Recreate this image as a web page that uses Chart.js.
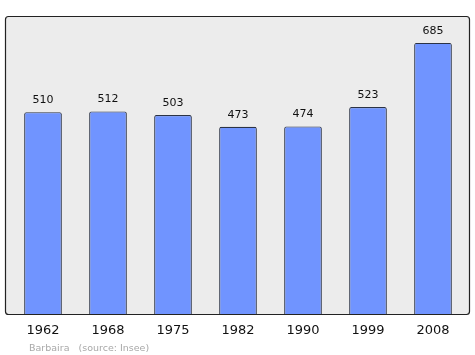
<!DOCTYPE html>
<html><head><meta charset="utf-8">
<script src="https://cdn.jsdelivr.net/npm/chart.js@4/dist/chart.umd.min.js"></script>
<style>html,body{margin:0;padding:0;background:#fff}#c{display:block}</style>
</head><body>
<canvas id="c" width="475" height="355"></canvas>
<script>
const years = ["1962","1968","1975","1982","1990","1999","2008"];
const population = [510,512,503,473,474,523,685];
const footerText = "Barbaira   (source: Insee)";

function framePath(ctx){
  const x0=5.5, y0=16.5, x1=469.5, y1=314.5, r=3;
  ctx.beginPath();
  ctx.moveTo(x0+r,y0);ctx.lineTo(x1-r,y0);ctx.quadraticCurveTo(x1,y0,x1,y0+r);
  ctx.lineTo(x1,y1-r);ctx.quadraticCurveTo(x1,y1,x1-r,y1);
  ctx.lineTo(x0+r,y1);ctx.quadraticCurveTo(x0,y1,x0,y1-r);
  ctx.lineTo(x0,y0+r);ctx.quadraticCurveTo(x0,y0,x0+r,y0);
  ctx.closePath();
}

const deco = {
  id:'deco',
  beforeDraw(chart){
    const {ctx} = chart;
    ctx.save();
    framePath(ctx);
    ctx.fillStyle='#ececec';ctx.fill();
    ctx.restore();
  },
  afterDraw(chart){
    const {ctx} = chart;
    const xs = chart.scales.x, ys = chart.scales.y;
    ctx.save();
    framePath(ctx);
    ctx.strokeStyle='#222';ctx.lineWidth=1.2;ctx.stroke();
    ctx.fillStyle='#111';
    ctx.textAlign='center';
    ctx.font='11px "DejaVu Sans"';
    ctx.textBaseline='alphabetic';
    years.forEach((y,i)=>{
      const px = xs.getPixelForValue(i);
      ctx.fillText(String(population[i]), px, ys.getPixelForValue(population[i]) - 9);
    });
    ctx.font='13px "DejaVu Sans"';
    years.forEach((y,i)=>{
      ctx.fillText(y, xs.getPixelForValue(i), 334);
    });
    ctx.textAlign='left';
    ctx.fillStyle='#a8a8a8';
    ctx.font='9.5px "DejaVu Sans"';
    ctx.fillText(footerText, 29, 351);
    ctx.restore();
  }
};

new Chart(document.getElementById('c'), {
  type:'bar',
  data:{labels:years, datasets:[{data:population, backgroundColor:'#7094ff', borderColor:'#2b3346', borderWidth:1.2, borderSkipped:'start', borderRadius:{topLeft:2,topRight:2,bottomLeft:0,bottomRight:0}, categoryPercentage:1, barPercentage:0.58}]},
  options:{
    responsive:false, animation:false, devicePixelRatio:1,
    layout:{padding:{left:10.5,right:9.5,top:16,bottom:41}},
    plugins:{legend:{display:false},tooltip:{enabled:false}},
    scales:{
      x:{display:false, offset:true},
      y:{display:false, min:0, max:753}
    }
  },
  plugins:[deco]
});
</script>
</body></html>
